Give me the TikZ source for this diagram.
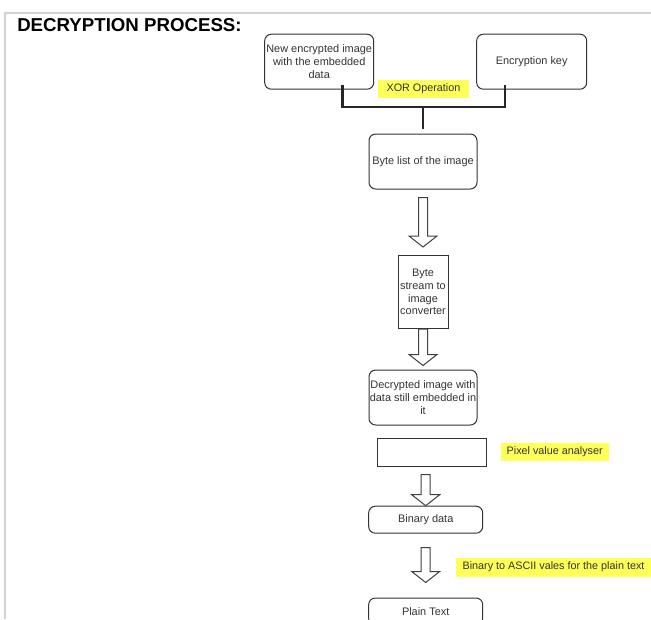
\documentclass[tikz,border=0pt]{standalone}
\usepackage{fontspec}
\setmainfont{Liberation Sans}
\usetikzlibrary{calc}

\definecolor{hl}{RGB}{255,255,90}
\definecolor{ink}{RGB}{51,51,51}

% hollow block arrow from #1 (tail) to #2 (tip)
\newcommand{\hollowarrow}[2]{%
  \draw[arrowline] ($(#1)+(-4.5,0)$) -- ($(#2)+(-4.5,-11)$) -- ($(#2)+(-14,-11)$) -- (#2)
    -- ($(#2)+(14,-11)$) -- ($(#2)+(4.5,-11)$) -- ($(#1)+(4.5,0)$) -- cycle ;}

\begin{document}
\begin{tikzpicture}[x=0.75pt,y=0.75pt,yscale=-1,xscale=1,
  rbox/.style={draw=black!80,line width=0.75pt,rounded corners=5pt,inner sep=0pt,
    align=center,text=ink,font=\fontsize{8.2}{9.6}\selectfont},
  sbox/.style={rbox,rounded corners=0pt},
  hilite/.style={fill=hl,inner sep=0pt,text=ink,font=\fontsize{8.1}{9.6}\selectfont},
  bus/.style={draw=black!85,line width=2.2pt},
  arrowline/.style={draw=black!75,line width=0.75pt}]
\useasboundingbox (0,0) rectangle (651,619);
\clip (0,0) rectangle (651,619);

%Page frame
\draw [gray!35,line width=1.5pt] (5,619) -- (5,13) -- (651,13) ;

% Text Node
\node (title) [anchor=base west,inner sep=0pt,font=\fontsize{14}{16}\selectfont\bfseries] at (17,31.5) {DECRYPTION PROCESS:};

%Shape: Rounded Rectangle
\node (img) [rbox,minimum width=81.75pt,minimum height=41.25pt] at (319.2,61.7) {New encrypted image\\with the embedded\\data};
%Shape: Rounded Rectangle
\node (key) [rbox,minimum width=82.5pt,minimum height=41.25pt] at (531.7,61.7) {Encryption key};
% Text Node
\node (xor) [hilite,minimum width=68.25pt,minimum height=13.5pt] at (423.5,89) {XOR Operation};
%Shape: Rounded Rectangle
\node (bytes) [rbox,minimum width=81pt,minimum height=41.25pt] at (423,161.5) {Byte list of the image};
%Shape: Rectangle
\node (conv) [sbox,minimum width=37.5pt,minimum height=54.75pt] at (423,292) {Byte\\stream to\\image\\converter};
%Shape: Rounded Rectangle
\node (dec) [rbox,minimum width=81pt,minimum height=41.25pt] at (423,397.5) {Decrypted image with\\data still embedded in\\it};
%Shape: Rectangle
\node (pixbox) [sbox,minimum width=81.75pt,minimum height=21pt] at (432.2,452) {};
% Text Node
\node (pix) [hilite,minimum width=81pt,minimum height=13.5pt] at (554.7,452) {Pixel value analyser};
%Shape: Rounded Rectangle
\node (bin) [rbox,minimum width=85.5pt,minimum height=20.25pt] at (425.7,519.7) {Binary data};
% Text Node
\node (ascii) [hilite,minimum width=147pt,minimum height=14.25pt] at (553.5,567) {Binary to ASCII vales for the plain text};
%Shape: Rounded Rectangle
\node (plain) [rbox,minimum width=85.5pt,minimum height=20.25pt] at (425.7,611.5) {Plain Text};

% Connection
\coordinate (join) at (423,107);
\draw [bus] ($(img.south)+(23,-5)$) |- (join) -| ($(key.south)+(-26.7,-5)$) ;
\draw [bus] (join) -- ($(bytes.north)+(0,-5)$) ;

%Block arrows
\coordinate (a1s) at ($(bytes.south)+(0,8)$);
\coordinate (a1e) at ($(conv.north)+(0,-8)$);
\hollowarrow{a1s}{a1e}
\coordinate (a2s) at (conv.south);
\coordinate (a2e) at ($(dec.north)+(0,-4)$);
\hollowarrow{a2s}{a2e}
\coordinate (a3s) at ($(pixbox.south -| bin.north)+(0,8)$);
\coordinate (a3e) at (bin.north);
\hollowarrow{a3s}{a3e}
\coordinate (a4s) at ($(bin.south)+(0,14)$);
\coordinate (a4e) at ($(plain.north)+(0,-15)$);
\hollowarrow{a4s}{a4e}

\end{tikzpicture}
\end{document}
